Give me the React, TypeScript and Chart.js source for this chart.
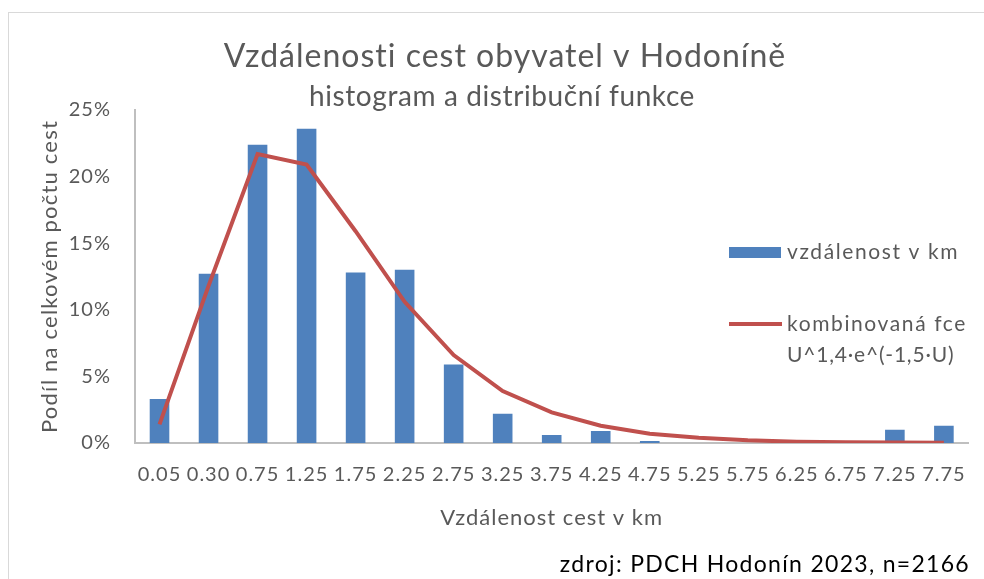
import React, { useEffect, useRef } from 'react';
import { Chart, registerables } from 'chart.js';

Chart.register(...registerables);

const categories = ['0.05', '0.30', '0.75', '1.25', '1.75', '2.25', '2.75', '3.25', '3.75', '4.25', '4.75', '5.25', '5.75', '6.25', '6.75', '7.25', '7.75'];
const barValues = [3.3, 12.7, 22.4, 23.6, 12.8, 13.0, 5.9, 2.2, 0.6, 0.9, 0.15, 0, 0, 0, 0, 1.0, 1.3];
const lineValues = [1.4, 11.8, 21.7, 20.9, 15.9, 10.6, 6.6, 3.9, 2.3, 1.3, 0.7, 0.4, 0.2, 0.1, 0.05, 0.03, 0.02];
const yTicks = [0, 5, 10, 15, 20, 25];

const titleText = 'Vzdálenosti cest obyvatel v Hodoníně';
const subtitleText = 'histogram a distribuční funkce';
const xTitle = 'Vzdálenost cest v km';
const yTitle = 'Podíl na celkovém počtu cest';
const barLabel = 'vzdálenost v km';
const lineLabel1 = 'kombinovaná fce';
const lineLabel2 = 'U^1,4·e^(-1,5·U)';
const sourceText = 'zdroj: PDCH Hodonín 2023, n=2166';

const FONT = 'Lato, "Noto Sans", sans-serif';
const GRAY = '#595959';
const BLUE = '#4F81BD';
const RED = '#C0504D';

const setSpacing = (ctx: any, px: number) => {
  if ('letterSpacing' in ctx) ctx.letterSpacing = px + 'px';
};

const decorPlugin = {
  id: 'decor',
  beforeDraw(chart: any) {
    const ctx = chart.ctx;
    ctx.save();
    ctx.fillStyle = '#ffffff';
    ctx.fillRect(0, 0, chart.width, chart.height);
    ctx.strokeStyle = '#D9D9D9';
    ctx.lineWidth = 1;
    ctx.strokeRect(8.5, 12.5, 1000, 620);
    ctx.restore();
    setSpacing(ctx, 1);
  },
  afterDraw(chart: any) {
    const ctx = chart.ctx;
    const area = chart.chartArea;
    ctx.save();
    ctx.fillStyle = GRAY;
    ctx.textAlign = 'center';
    ctx.textBaseline = 'alphabetic';
    setSpacing(ctx, 1);
    ctx.font = `32px ${FONT}`;
    ctx.fillText(titleText, 505, 67);
    setSpacing(ctx, 0.6);
    ctx.font = `28px ${FONT}`;
    ctx.fillText(subtitleText, 502, 106);

    // y axis title
    ctx.save();
    ctx.translate(50, (area.top + area.bottom) / 2);
    ctx.rotate(-Math.PI / 2);
    ctx.textAlign = 'center';
    ctx.textBaseline = 'middle';
    ctx.font = `22px ${FONT}`;
    setSpacing(ctx, 1.2);
    ctx.fillText(yTitle, 0, 0);
    ctx.restore();

    // legend
    ctx.fillStyle = BLUE;
    ctx.fillRect(729, 247, 52, 11);
    ctx.strokeStyle = RED;
    ctx.lineWidth = 4;
    ctx.beginPath();
    ctx.moveTo(729, 324);
    ctx.lineTo(782, 324);
    ctx.stroke();
    ctx.fillStyle = GRAY;
    ctx.textAlign = 'left';
    ctx.textBaseline = 'middle';
    ctx.font = `21px ${FONT}`;
    setSpacing(ctx, 1.6);
    ctx.fillText(barLabel, 787, 252);
    ctx.fillText(lineLabel1, 787, 324);
    setSpacing(ctx, 0.8);
    ctx.fillText(lineLabel2, 787, 355);

    // source
    ctx.fillStyle = '#000000';
    ctx.textAlign = 'left';
    ctx.textBaseline = 'alphabetic';
    ctx.font = `23px ${FONT}`;
    setSpacing(ctx, 1.3);
    const w = ctx.measureText(sourceText).width;
    ctx.fillText(sourceText, 970 - w, 572);
    ctx.restore();
  },
};

export default function App() {
  const ref = useRef<HTMLCanvasElement | null>(null);

  useEffect(() => {
    let chart: Chart | null = null;
    let cancelled = false;
    const create = () => {
      if (cancelled || !ref.current) return;
      Chart.defaults.font.family = FONT;
      chart = new Chart(ref.current, {
        type: 'bar',
        data: {
          labels: categories,
          datasets: [
            {
              type: 'line',
              label: lineLabel1 + ' ' + lineLabel2,
              data: lineValues,
              borderColor: RED,
              backgroundColor: RED,
              borderWidth: 4,
              pointRadius: 0,
              tension: 0,
              fill: false,
              order: 0,
            } as any,
            {
              type: 'bar',
              label: barLabel,
              data: barValues,
              backgroundColor: BLUE,
              barPercentage: 0.4,
              categoryPercentage: 1,
              order: 1,
            } as any,
          ],
        },
        options: {
          responsive: false,
          animation: false,
          layout: { padding: { top: 110, right: 12, bottom: 0, left: 0 } },
          plugins: {
            legend: { display: false },
            title: { display: false },
            tooltip: { enabled: false },
          },
          scales: {
            x: {
              grid: { display: false, drawTicks: false },
              border: { color: '#BFBFBF', width: 2 },
              ticks: {
                color: GRAY,
                font: { size: 20, family: FONT },
                padding: 20,
                maxRotation: 0,
                autoSkip: false,
              },
              title: {
                display: true,
                text: xTitle,
                color: GRAY,
                font: { size: 22, family: FONT },
                padding: { top: 0, bottom: 48 },
              },
              afterFit: (s: any) => {
                s.height = 136;
              },
            },
            y: {
              min: 0,
              max: 25,
              afterBuildTicks: (s: any) => {
                s.ticks = yTicks.map((v) => ({ value: v }));
              },
              grid: { display: false, drawTicks: false },
              border: { color: '#BFBFBF', width: 2 },
              ticks: {
                color: GRAY,
                font: { size: 20, family: FONT },
                padding: 24,
                callback: (v: any) => v + '%',
              },
              title: { display: false },
              afterFit: (s: any) => {
                s.width = 135;
              },
            },
          },
        },
        plugins: [decorPlugin],
      });
    };
    const fonts: any = (document as any).fonts;
    if (fonts && fonts.load) {
      Promise.all([fonts.load(`20px Lato`), fonts.load(`30px Lato`)]).then(create, create);
    } else {
      create();
    }
    return () => {
      cancelled = true;
      if (chart) chart.destroy();
    };
  }, []);

  return (
    <canvas
      ref={ref}
      width={984}
      height={579}
      style={{ position: 'absolute', left: 0, top: 0, width: 984, height: 579 }}
    />
  );
}
